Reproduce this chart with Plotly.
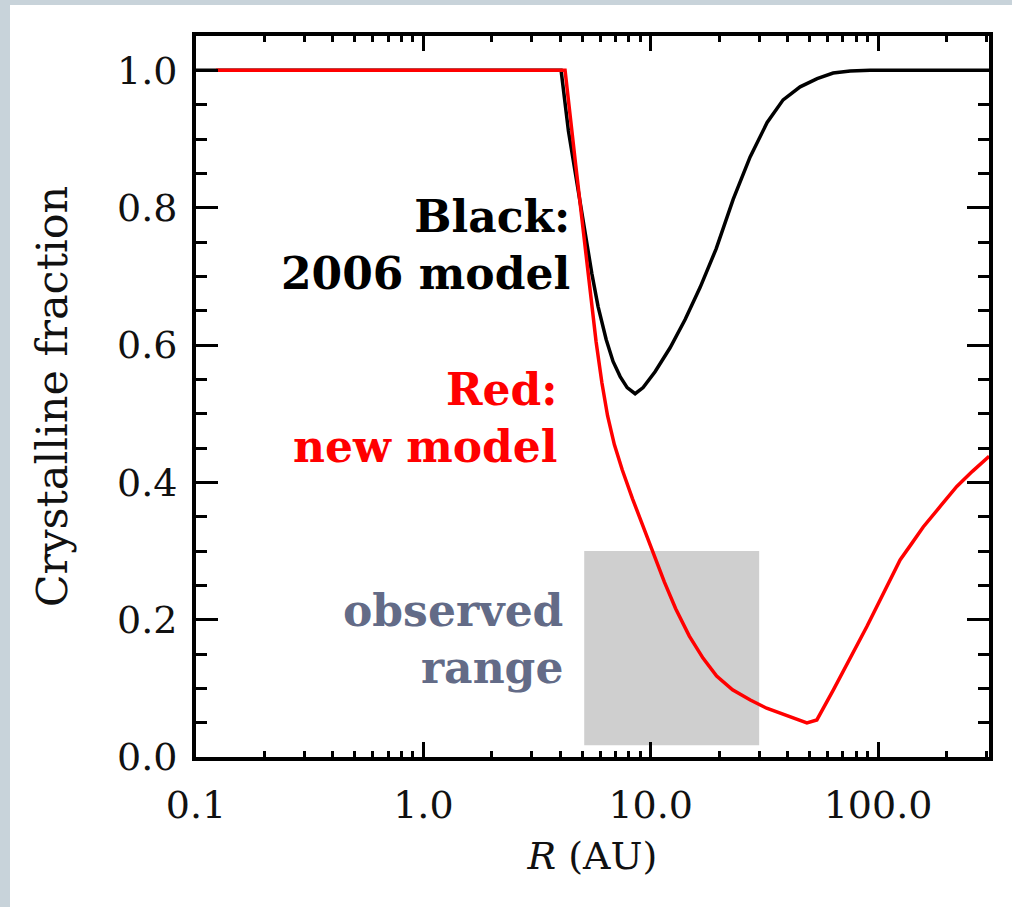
import plotly.graph_objects as go

# ---- data ----
black_r = [0.1, 4.035, 4.345, 4.89, 5.51, 5.87, 6.37, 6.83, 7.34, 7.88, 8.54, 9.26, 10.45,
           12.17, 14.17, 16.5, 19.4, 23.05, 27.37, 32.52, 38.23, 45.42, 53.97, 63.45, 75.4,
           92.3, 308]
black_f = [1.0, 1.0, 0.912, 0.808, 0.704, 0.656, 0.608, 0.576, 0.554, 0.538, 0.529, 0.538, 0.561,
           0.596, 0.637, 0.684, 0.740, 0.812, 0.874, 0.924, 0.957, 0.976, 0.988, 0.996, 0.999,
           1.0, 1.0]

red_r = [0.1225, 4.2, 4.68, 5.25, 5.75, 6.10, 6.46, 6.92, 7.50, 8.32, 9.23, 10.23, 11.48, 12.88,
         14.79, 16.98, 19.5, 22.91, 27.42, 32.36, 38.37, 43.65, 48.64, 53.8, 63.7, 89.3, 125,
         140, 158, 190, 222, 260, 296, 308]
red_f = [1.0, 1.0, 0.862, 0.718, 0.605, 0.545, 0.497, 0.455, 0.418, 0.376, 0.336, 0.297, 0.255, 0.216,
         0.176, 0.144, 0.118, 0.098, 0.083, 0.071, 0.0615, 0.055, 0.0495, 0.054, 0.098, 0.190, 0.287,
         0.310, 0.335, 0.367, 0.394, 0.416, 0.433, 0.438]

observed_r = [5.1, 30.0]
observed_f = [0.017, 0.30]

x_tickvals = [0.1, 1.0, 10.0, 100.0]
x_ticktext = ["0.1", "1.0", "10.0", "100.0"]
y_tickvals = [0.0, 0.2, 0.4, 0.6, 0.8, 1.0]
y_ticktext = ["0.0", "0.2", "0.4", "0.6", "0.8", "1.0"]

W, H = 1012, 907
ML, MR, MT, MB = 196, 23, 36, 150
PW, PH = W - ML - MR, H - MT - MB

fig = go.Figure()

fig.add_trace(go.Scatter(x=black_r, y=black_f, mode="lines",
                         line=dict(color="black", width=3.5), showlegend=False))
fig.add_trace(go.Scatter(x=red_r, y=red_f, mode="lines",
                         line=dict(color="#ff0000", width=3.5), showlegend=False))

# observed range box
fig.add_shape(type="rect", xref="x", yref="y",
              x0=observed_r[0], x1=observed_r[1], y0=observed_f[0], y1=observed_f[1],
              fillcolor="#cfcfcf", line=dict(width=0), layer="below")

# page border bands (top and left)
band = "#c8d3da"
fig.add_shape(type="rect", xref="paper", yref="paper",
              x0=-ML / PW, x1=(W - ML) / PW, y0=(H - MB - 5) / PH, y1=(H - MB) / PH,
              fillcolor=band, line=dict(width=0), layer="below")
fig.add_shape(type="rect", xref="paper", yref="paper",
              x0=-ML / PW, x1=(10 - ML) / PW, y0=-MB / PH, y1=(H - MB) / PH,
              fillcolor=band, line=dict(width=0), layer="below")

serif = "DejaVu Serif"
ann_font = "DejaVu Serif"
fig.add_annotation(x=0.654, y=0.745, xref="x", yref="y", xanchor="right", yanchor="middle",
                   text="<b>Black:<br>2006 model</b>", showarrow=False, align="right",
                   font=dict(family=ann_font, size=44, color="black"))
fig.add_annotation(x=0.600, y=0.494, xref="x", yref="y", xanchor="right", yanchor="middle",
                   text="<b>Red:<br>new model</b>", showarrow=False, align="right",
                   font=dict(family=ann_font, size=44, color="#ff0000"))
fig.add_annotation(x=0.622, y=0.172, xref="x", yref="y", xanchor="right", yanchor="middle",
                   text="<b>observed<br>range</b>", showarrow=False, align="right",
                   font=dict(family=ann_font, size=44, color="#636b87"))

fig.update_xaxes(type="log", range=[-1, 2.488],
                 tickmode="array", tickvals=x_tickvals, ticktext=x_ticktext,
                 ticks="inside", ticklen=15, tickwidth=3, tickcolor="black",
                 minor=dict(ticks="inside", ticklen=6, tickwidth=3, tickcolor="black", dtick="D1"),
                 showline=True, linewidth=4, linecolor="black", mirror="ticks",
                 showgrid=False, zeroline=False,
                 tickfont=dict(family=serif, size=38, color="#111"),
                 ticklabelstandoff=11,
                 title=dict(text="<i>R</i> (AU)", font=dict(family=serif, size=38, color="#111"),
                            standoff=18))
fig.update_yaxes(range=[0, 1.05],
                 tickmode="array", tickvals=y_tickvals, ticktext=y_ticktext,
                 ticks="inside", ticklen=22, tickwidth=3, tickcolor="black",
                 minor=dict(ticks="inside", ticklen=11, tickwidth=3, tickcolor="black", dtick=0.05),
                 showline=True, linewidth=4, linecolor="black", mirror="ticks",
                 showgrid=False, zeroline=False,
                 tickfont=dict(family=serif, size=38, color="#111"),
                 ticklabelstandoff=7,
                 title=dict(text="Crystalline fraction", font=dict(family=serif, size=43, color="#111"),
                            standoff=37))

fig.update_layout(width=W, height=H, margin=dict(l=ML, r=MR, t=MT, b=MB, autoexpand=False),
                  paper_bgcolor="white", plot_bgcolor="white", showlegend=False)

fig.write_html("out.html", config={"displayModeBar": False},
               post_script="document.body.style.margin='0';")
